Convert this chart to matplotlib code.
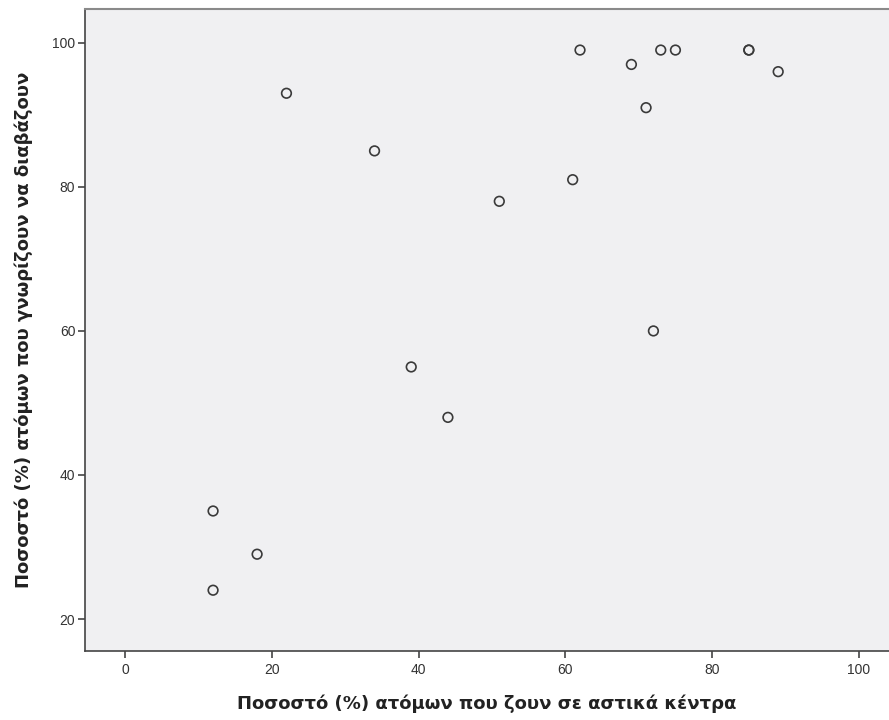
import matplotlib
matplotlib.use('Agg')
import matplotlib.pyplot as plt

# urban population (%) vs. literacy (%)
urban_pct = [12, 12, 18, 22, 34, 39, 44, 51, 61, 62, 69, 71, 72, 73, 75, 85, 85, 89]
literacy_pct = [24, 35, 29, 93, 85, 55, 48, 78, 81, 99, 97, 91, 60, 99, 99, 99, 99, 96]

x_ticks = [0, 20, 40, 60, 80, 100]
y_ticks = [20, 40, 60, 80, 100]

x_label = 'Ποσοστό (%) ατόμων που ζουν σε αστικά κέντρα'
y_label = 'Ποσοστό (%) ατόμων που γνωρίζουν να διαβάζουν'

fig = plt.figure(figsize=(8.89, 7.2), dpi=100)
ax = fig.add_axes([85 / 889, 1 - 651 / 720, 1 - 85 / 889, (651 - 9) / 720])
ax.set_facecolor('#f0f0f2')

ax.scatter(urban_pct, literacy_pct, s=48, facecolors='none',
           edgecolors='#3a3a3a', linewidths=1.2, zorder=3)

ax.set_xlim(-5.45, 104.1)
ax.set_ylim(15.56, 104.7)
ax.set_xticks(x_ticks)
ax.set_yticks(y_ticks)

for side in ['left', 'bottom']:
    ax.spines[side].set_color('#444444')
    ax.spines[side].set_linewidth(1.2)
ax.spines['top'].set_color('#8a8a8a')
ax.spines['top'].set_linewidth(1.5)
ax.spines['right'].set_visible(False)

ax.tick_params(axis='both', direction='out', length=5, width=1.2, color='#444444',
               labelsize=10, labelcolor='#333333', pad=2)
ax.tick_params(axis='x', pad=4)
for lbl in ax.get_xticklabels() + ax.get_yticklabels():
    lbl.set_fontfamily('Liberation Sans')

ax.set_xlabel(x_label, fontsize=13, fontweight='bold', color='#222222', labelpad=12)
ax.set_ylabel(y_label, fontsize=13, fontweight='bold', color='#222222', labelpad=14)

plt.savefig('out.png', dpi=100)
